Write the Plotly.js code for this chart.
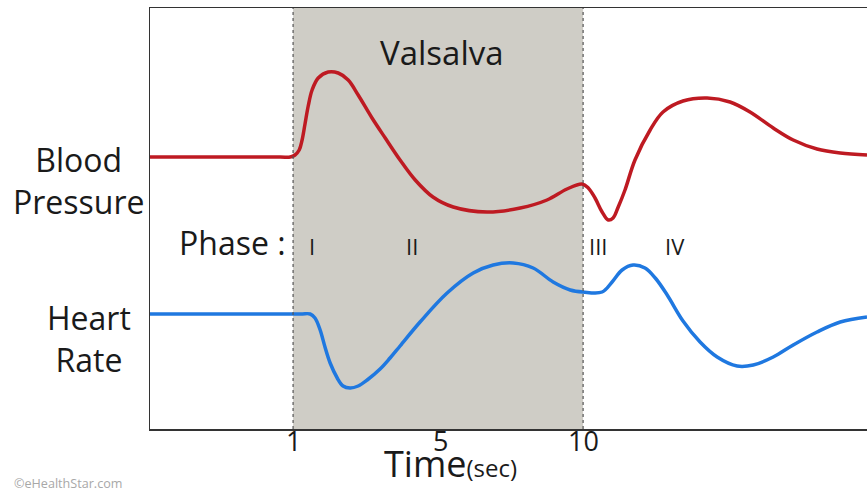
<!DOCTYPE html>
<html>
<head>
<meta charset="utf-8">
<script src="https://cdn.plot.ly/plotly-3.0.1.min.js"></script>
<style>html,body{margin:0;padding:0;background:#fff;}#chart{width:867px;height:491px;}</style>
</head>
<body>
<div id="chart"></div>
<script>
// Time axis (seconds, schematic)
const bpTime = [-3.44, 0.60, 0.91, 1.06, 1.19, 1.28, 1.37, 1.47, 1.59, 1.78, 2.09, 2.40, 2.71, 3.02, 3.45, 3.86, 4.32, 4.79, 5.34, 5.97, 7.02, 8.05, 8.88, 9.50, 9.97, 10.16, 10.37, 10.59, 10.78, 10.93, 11.09, 11.30, 11.61, 12.08, 12.48, 13.10, 13.85, 14.56, 15.18, 15.90, 16.52, 17.26, 17.98, 18.81];
const bloodPressure = [272, 272, 272, 274, 279, 289, 305, 323, 339, 351, 357, 356, 349, 334, 311, 291, 269, 249, 232, 222, 217, 221, 229, 240, 245, 241, 231, 217, 209, 211, 222, 239, 269, 299, 317, 328, 331, 327, 317, 301, 289, 280, 276, 274];

const hrTime = [-3.44, 1.22, 1.53, 1.68, 1.84, 1.99, 2.15, 2.37, 2.55, 2.77, 3.02, 3.30, 3.70, 4.01, 4.32, 4.94, 5.78, 6.59, 7.21, 7.83, 8.45, 9.07, 9.60, 10.00, 10.59, 10.90, 11.21, 11.55, 11.92, 12.24, 12.61, 13.10, 13.63, 14.16, 14.78, 15.28, 15.90, 16.52, 17.26, 17.98, 18.81];
const heartRate = [115, 115, 115, 111, 99, 82, 66, 51, 43, 41, 43, 49, 60, 71, 83, 107, 136, 156, 164, 166, 161, 147, 139, 137, 137, 147, 159, 164, 161, 151, 134, 108, 87, 72, 63, 64, 72, 84, 97, 107, 112];

const valsalvaStart = 1;
const valsalvaEnd = 10;

const tickPositions = [1, 5.56, 10];
const tickLabels = ['1', '5', '10'];

const phaseLabels = ['I', 'II', 'III', 'IV'];
const phasePositions = [1.59, 4.69, 10.47, 12.86];

const FONT = 'Open Sans, Noto Sans, sans-serif';
const INK = '#1a1a1a';

const traces = [
  {x: bpTime, y: bloodPressure, type: 'scatter', mode: 'lines',
   line: {color: '#be1a22', width: 3.5, shape: 'spline', smoothing: 1}, hoverinfo: 'skip'},
  {x: hrTime, y: heartRate, type: 'scatter', mode: 'lines',
   line: {color: '#1f78e0', width: 3.5, shape: 'spline', smoothing: 1}, hoverinfo: 'skip'}
];

// helpers: pixel positions -> paper coords (plot area 150..867 x 8..429)
const px = v => (v - 150) / 717;
const py = v => (429 - v) / 421;

const annotations = [
  {text: 'Valsalva', x: px(442), y: py(52), xref: 'paper', yref: 'paper', showarrow: false,
   xanchor: 'center', yanchor: 'middle', font: {family: FONT, size: 33, color: INK}},
  {text: 'Blood<br>Pressure', x: px(78), y: py(180), xref: 'paper', yref: 'paper', showarrow: false,
   xanchor: 'center', yanchor: 'middle', align: 'center', font: {family: FONT, size: 32, color: INK}},
  {text: 'Heart<br>Rate', x: px(89), y: py(338), xref: 'paper', yref: 'paper', showarrow: false,
   xanchor: 'center', yanchor: 'middle', align: 'center', font: {family: FONT, size: 32, color: INK}},
  {text: 'Phase :', x: px(288), y: py(242), xref: 'paper', yref: 'paper', showarrow: false,
   xanchor: 'right', yanchor: 'middle', font: {family: FONT, size: 32, color: INK}},
  {text: 'Time<span style="font-size:24px">(sec)</span>', x: px(450), y: py(490), xref: 'paper', yref: 'paper', showarrow: false,
   xanchor: 'center', yanchor: 'bottom', font: {family: FONT, size: 36, color: INK}},
  {text: '©eHealthStar.com', x: px(12), y: py(483), xref: 'paper', yref: 'paper', showarrow: false,
   xanchor: 'left', yanchor: 'middle', font: {family: FONT, size: 12.6, color: '#a8a8a8'}}
];

tickLabels.forEach((t, i) => {
  annotations.push({text: t, x: tickPositions[i], y: py(440), xref: 'x', yref: 'paper', showarrow: false,
    xanchor: 'center', yanchor: 'middle', font: {family: FONT, size: 27, color: INK}});
});

phaseLabels.forEach((p, i) => {
  annotations.push({text: p, x: phasePositions[i], y: py(246), xref: 'x', yref: 'paper', showarrow: false,
    xanchor: 'center', yanchor: 'middle', font: {family: FONT, size: 22, color: INK}});
});

const layout = {
  width: 867, height: 491,
  margin: {l: 150, r: 0, t: 8, b: 62},
  paper_bgcolor: '#ffffff', plot_bgcolor: '#ffffff',
  showlegend: false,
  xaxis: {range: [-3.44, 18.81], showgrid: false, zeroline: false, showline: true, mirror: true,
    linecolor: '#333333', linewidth: 1.5, ticks: '', tickvals: tickPositions, ticktext: tickLabels,
    showticklabels: false, fixedrange: true},
  yaxis: {range: [0, 421], showgrid: false, zeroline: false, showline: true, mirror: false,
    linecolor: '#333333', linewidth: 1.5, showticklabels: false, ticks: '', fixedrange: true},
  shapes: [
    {type: 'rect', xref: 'x', yref: 'paper', x0: valsalvaStart, x1: valsalvaEnd, y0: 0, y1: 1,
     fillcolor: '#cfcdc6', line: {width: 0}, layer: 'below'},
    {type: 'line', xref: 'x', yref: 'paper', x0: valsalvaStart, x1: valsalvaStart, y0: 0, y1: 1,
     line: {color: '#555555', width: 1.2, dash: 'dot'}},
    {type: 'line', xref: 'x', yref: 'paper', x0: valsalvaEnd, x1: valsalvaEnd, y0: 0, y1: 1,
     line: {color: '#555555', width: 1.2, dash: 'dot'}}
  ],
  annotations: annotations
};

Plotly.newPlot('chart', traces, layout, {displayModeBar: false, staticPlot: true});
</script>
</body>
</html>
